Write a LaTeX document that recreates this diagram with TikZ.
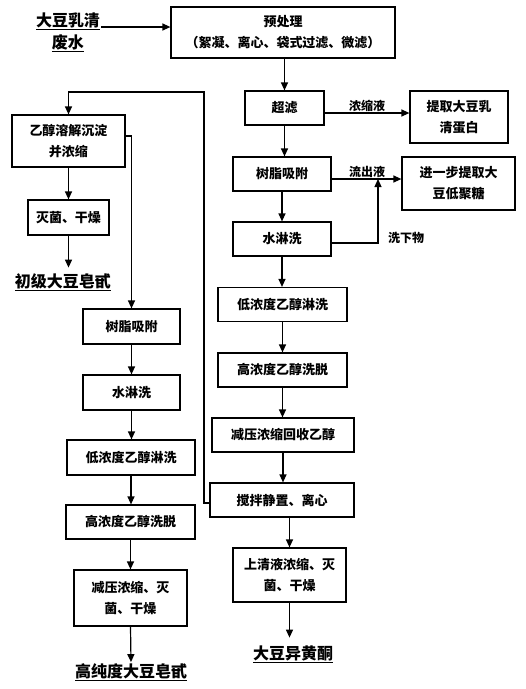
\documentclass[tikz,border=0pt]{standalone}
\usepackage{fontspec}
\setmainfont{Noto Sans CJK SC}
\usetikzlibrary{arrows.meta,positioning,calc}

\begin{document}
\begin{tikzpicture}[
  x=1pt, y=-1pt,
  font=\fontsize{13}{21}\selectfont\bfseries,
  every node/.style={align=center},
  box/.style={draw=black, line width=1.2pt, rectangle, inner sep=2pt, minimum height=34pt},
  prod/.style={font=\fontsize{16}{22}\selectfont\bfseries, inner sep=1pt},
  lbl/.style={font=\fontsize{12}{14}\selectfont\bfseries, inner sep=1pt},
  arr/.style={-{Triangle[length=8pt,width=7pt]}, line width=1.2pt}
]
\useasboundingbox (0,0) rectangle (526,689);

% Feed and pretreatment
\node[prod] (src) at (68, 32) {\underline{大豆乳清}\\\underline{废水}};
\node[box, minimum width=224pt, minimum height=51pt] (pre) at (283, 32.5) {%
  预处理\\（絮凝、离心、袋式过滤、微滤）
};
\draw[arr] ([yshift=5pt]src.east) -- ([yshift=5pt]src.east -| pre.west);

% Right column: ultrafiltration and resin line
\node[box, minimum width=79pt] (uf) at (284.5, 108) {超滤};
\node[box, minimum width=98pt, minimum height=52pt] (prot) at (459, 117) {提取大豆乳\\清蛋白};
\node[box, minimum width=98pt] (resR) at (282, 174) {树脂吸附};
\node[box, minimum width=113pt, minimum height=53pt] (oligo) at (458.5, 183.5) {进一步提取大\\豆低聚糖};
\node[box, minimum width=98pt] (washR) at (282, 239) {水淋洗};
\node[box, minimum width=129pt] (lowR) at (282.5, 304.5) {低浓度乙醇淋洗};
\node[box, minimum width=129pt] (highR) at (282.5, 370) {高浓度乙醇洗脱};
\node[box, minimum width=142pt] (evapR) at (283, 435) {减压浓缩回收乙醇};
\node[box, minimum width=144pt] (stir) at (282, 500) {搅拌静置、离心};
\node[box, minimum width=113pt, minimum height=54pt] (super) at (289.5, 575) {上清液浓缩、灭\\菌、干燥};
\node[prod] (iso) at (293, 654) {\underline{大豆异黄酮}};

\draw[arr] (pre.south -| uf.north) -- (uf.north);
\draw[arr] ([yshift=-5pt]uf.east) -- node[lbl, above] {浓缩液} ([yshift=-5pt]uf.east -| prot.west);
\draw[arr] (uf.south) -- (uf.south |- resR.north);
\coordinate (join) at (378, 179);
\draw[arr] ([yshift=-5pt]resR.east) -- ([yshift=-5pt]resR.east -| oligo.west);
\node[lbl, above] (outlbl) at (367, 179) {流出液};
\draw[arr] ([yshift=-4pt]washR.east) -| (join);
\node[lbl] (washlbl) at (406, 238) {洗下物};
\draw[arr] (resR.south) -- (washR.north);
\draw[arr] (washR.south) -- (washR.south |- lowR.north);
\draw[arr] (lowR.south) -- (highR.north);
\draw[arr] (highR.south) -- (highR.south |- evapR.north);
\draw[arr] (evapR.south) -- (evapR.south |- stir.north);
\draw[arr] (stir.south -| super.north) -- (super.north);
\draw[arr] (super.south) -- ++(0, 35);

% Left column: precipitate from centrifuge
\coordinate (turn) at (204, 92);
\node[box, minimum width=113pt, minimum height=52pt] (eth) at (68.5, 141) {乙醇溶解沉淀\\并浓缩};
\node[box, minimum width=81pt, minimum height=35pt] (ster) at (68.5, 217.5) {灭菌、干燥};
\node[prod] (crude) at (63, 282) {\underline{初级大豆皂甙}};
\node[box, minimum width=97pt, minimum height=35pt] (resL) at (131.5, 326.5) {树脂吸附};
\node[box, minimum width=97pt, minimum height=35pt] (washL) at (131.5, 392.5) {水淋洗};
\node[box, minimum width=128pt, minimum height=35pt] (lowL) at (131, 457.5) {低浓度乙醇淋洗};
\node[box, minimum width=129pt] (highL) at (130.5, 522) {高浓度乙醇洗脱};
\node[box, minimum width=113pt, minimum height=56pt] (evapL) at (130.5, 598) {减压浓缩、灭\\菌、干燥};
\node[prod] (pure) at (131, 672) {\underline{高纯度大豆皂甙}};

\draw[arr] ([yshift=-3pt]stir.west) -| (turn) -| (eth.north);
\draw[arr] (eth.south) -- (ster.north);
\draw[arr] (ster.south) -- ++(0, 32);
\draw[arr] ([yshift=5pt]eth.east) -| (resL.north);
\draw[arr] (resL.south) -- (washL.north);
\draw[arr] (washL.south) -- (washL.south |- lowL.north);
\draw[arr] (lowL.south) -- (lowL.south |- highL.north);
\draw[arr] (highL.south) -- (highL.south |- evapL.north);
\draw[arr] (evapL.south) -- (pure.north);

\end{tikzpicture}
\end{document}
